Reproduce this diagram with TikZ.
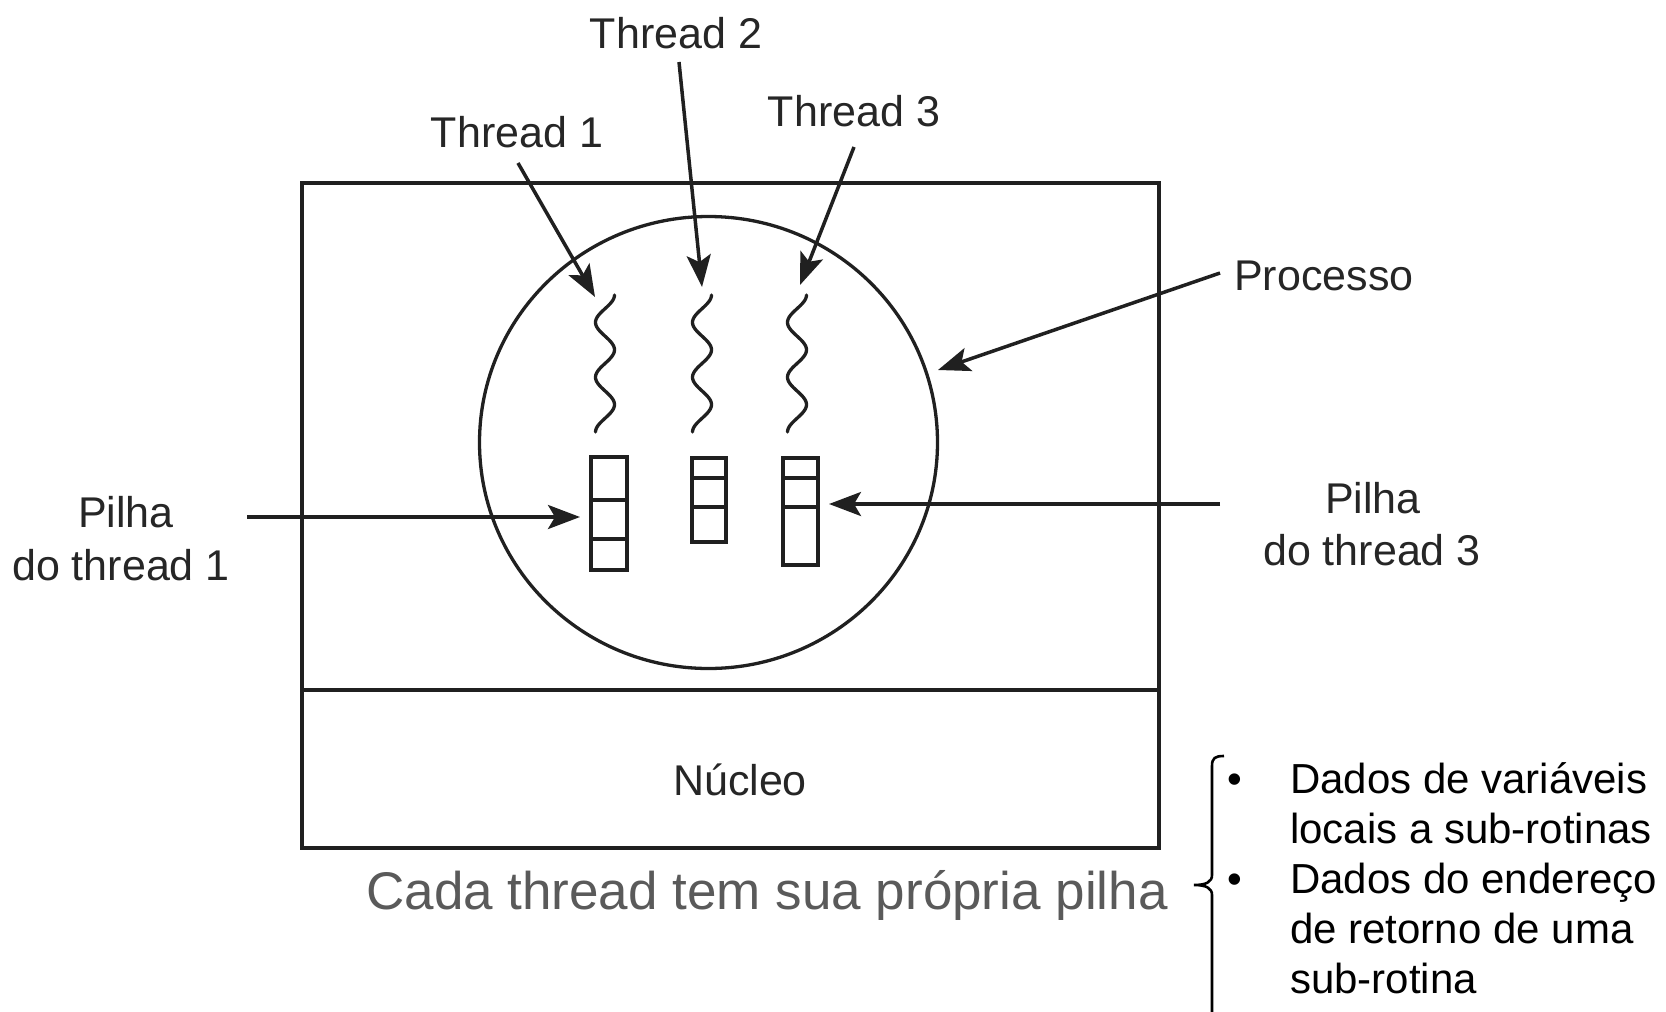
\documentclass[tikz,border=0pt]{standalone}
\usepackage{fontspec}
\setmainfont{Liberation Sans}
\usetikzlibrary{arrows.meta}

\definecolor{ink}{HTML}{202020}
\definecolor{lblc}{HTML}{262626}
\definecolor{notec}{HTML}{5A5A5A}

\begin{document}
\begin{tikzpicture}[x=1pt,y=-1pt,
  lbl/.style={text=lblc, font=\fontsize{43}{52}\selectfont, inner sep=0pt, anchor=base},
  note/.style={text=notec, font=\fontsize{53}{64}\selectfont, inner sep=0pt, anchor=base},
  item/.style={text=black, font=\fontsize{42}{50}\selectfont, inner sep=0pt, anchor=base west},
  dot/.style={text=black, font=\fontsize{42}{50}\selectfont, inner sep=0pt, anchor=base},
  frame/.style={draw=ink, line width=4pt},
  procline/.style={draw=ink, line width=3.3pt},
  stackbox/.style={draw=ink, line width=3.5pt},
  wave/.style={draw=ink, line width=3.3pt, line cap=round},
  pointer/.style={draw=ink, line width=3.5pt, -{Stealth[length=32pt,width=24pt,inset=7pt]}},
  bracket/.style={draw=black, line width=2.6pt}
]
\useasboundingbox[fill=white] (0,0) rectangle (1666,1012);

% address space of the process and the kernel below it
\draw[frame] (302,183) rectangle (1159,848);
\draw[frame] (302,690) -- (1159,690);
\node[lbl] (nucleo) at (740,795) {Núcleo};

% the process
\draw[procline] (708.5,442.5) ellipse [x radius=229, y radius=226];

% threads of execution
\foreach \cx/\n in {605/1, 702/2, 797/3}{
  \draw[wave] plot[domain=0:5, samples=80, smooth] ({\cx+9.5*cos(180*\x)}, {295+27.4*\x});
}

% one stack per thread
\draw[stackbox] (591,457) rectangle (627,570);
\draw[stackbox] (591,500) -- (627,500) (591,539) -- (627,539);
\draw[stackbox] (692,458) rectangle (726,542);
\draw[stackbox] (692,478) -- (726,478) (692,507) -- (726,507);
\draw[stackbox] (783,458) rectangle (818,565);
\draw[stackbox] (783,478) -- (818,478) (783,507) -- (818,507);

% labels
\node[lbl] (t1) at (517,147) {Thread 1};
\node[lbl] (t2) at (676,48) {Thread 2};
\node[lbl] (t3) at (854,126) {Thread 3};
\node[lbl, anchor=base west] (proc) at (1234,290) {Processo};
\node[lbl] (p1a) at (126,527) {Pilha};
\node[lbl] (p1b) at (121,580) {do thread 1};
\node[lbl] (p3a) at (1373,513) {Pilha};
\node[lbl] (p3b) at (1372,565) {do thread 3};

% arrow ends
\coordinate (a1s) at (518,163);  \coordinate (a1e) at (595,297);
\coordinate (a2s) at (679,62);   \coordinate (a2e) at (702,287);
\coordinate (a3s) at (854,147);  \coordinate (a3e) at (800,285);
\coordinate (aps) at (1220,273); \coordinate (ape) at (938,370);
\coordinate (s1s) at (247,517);  \coordinate (s1e) at (580,517);
\coordinate (s3s) at (1220,504); \coordinate (s3e) at (829,504);

\draw[pointer] (a1s) -- (a1e);
\draw[pointer] (a2s) -- (a2e);
\draw[pointer] (a3s) -- (a3e);
\draw[pointer] (aps) -- (ape);
\draw[pointer] (s1s) -- (s1e);
\draw[pointer] (s3s) -- (s3e);

% caption and what a stack holds
\node[note] (cap) at (767,909) {Cada thread tem sua própria pilha};
\draw[bracket] (1224,756) .. controls (1215,756) and (1212,758) .. (1212,766)
  -- (1212,875) .. controls (1212,882) and (1206,885) .. (1194,885)
  .. controls (1206,885) and (1212,888) .. (1212,895) -- (1212,1014);
\node[dot] (b1) at (1235,793) {•};
\node[item] (l1) at (1290,793) {Dados de variáveis};
\node[item] (l2) at (1290,843) {locais a sub-rotinas};
\node[dot] (b2) at (1235,893) {•};
\node[item] (l3) at (1290,893) {Dados do endereço};
\node[item] (l4) at (1290,943) {de retorno de uma};
\node[item] (l5) at (1290,993) {sub-rotina};
\end{tikzpicture}
\end{document}
